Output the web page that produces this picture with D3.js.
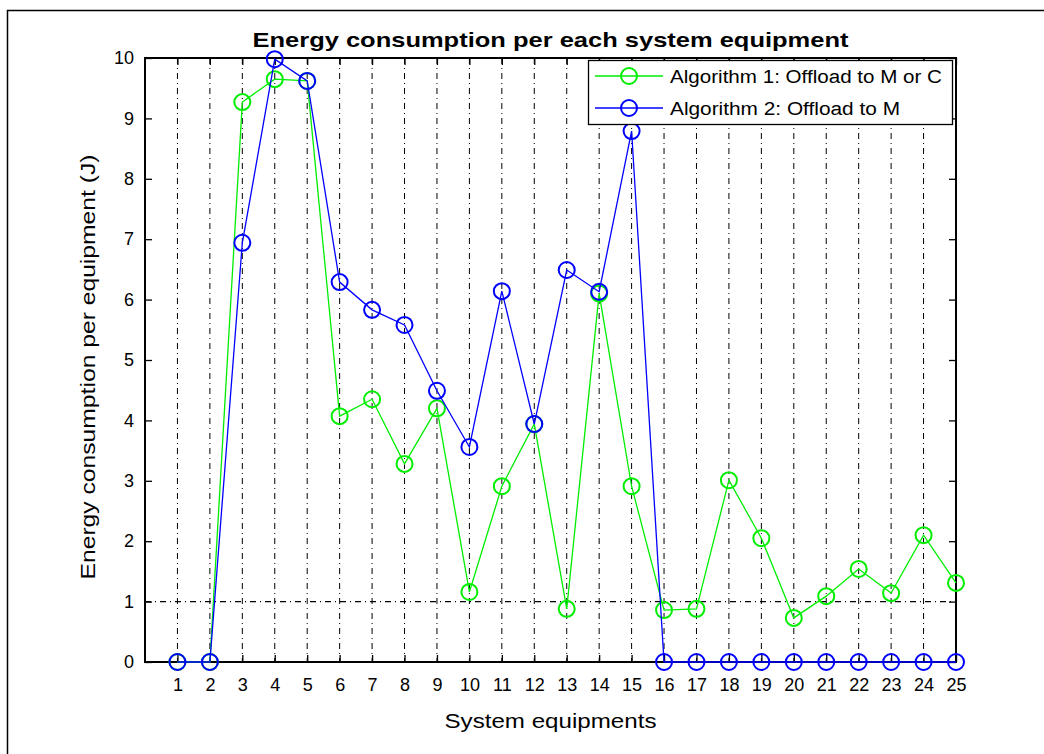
<!DOCTYPE html>
<html>
<head>
<meta charset="utf-8">
<script src="https://cdn.jsdelivr.net/npm/d3@7"></script>
<style>
html,body{margin:0;padding:0;background:#fff;}
svg{display:block;}
text{font-family:"Liberation Sans",Arial,sans-serif;fill:#000;}
</style>
</head>
<body>
<svg id="chart" width="1044" height="754"></svg>
<script>
const equipments = d3.range(1, 26);
const alg1 = [0, 0, 9.27, 9.65, 9.62, 4.07, 4.35, 3.28, 4.2, 1.16, 2.91, 3.94, 0.88, 6.1, 2.91, 0.86, 0.88, 3.01, 2.05, 0.73, 1.09, 1.54, 1.14, 2.1, 1.31];
const alg2 = [0, 0, 6.94, 9.98, 9.62, 6.29, 5.83, 5.58, 4.49, 3.56, 6.14, 3.94, 6.49, 6.13, 8.79, 0, 0, 0, 0, 0, 0, 0, 0, 0, 0];
const yTicks = d3.range(0, 11);
const seriesNames = ["Algorithm 1: Offload to M or C", "Algorithm 2: Offload to M"];
const seriesColors = ["#00ee00", "#0000ff"];
const title = "Energy consumption per each system equipment";
const xLabel = "System equipments";
const yLabel = "Energy consumption per equipment (J)";
const thresholdY = 1;

const svg = d3.select("#chart");
const L = 145, R = 956, T = 58, B = 662;
const x = d3.scaleLinear().domain([0, 25]).range([L, R]);
const y = d3.scaleLinear().domain([0, 10]).range([B, T]);

// figure border
svg.append("rect").attr("x", 7.5).attr("y", 10.5).attr("width", 1100).attr("height", 1000)
  .attr("fill", "none").attr("stroke", "#000").attr("stroke-width", 1.5);

const g = svg.append("g");

// vertical grid lines
g.selectAll("line.vg").data(equipments.filter(d => d < 25)).enter().append("line")
  .attr("x1", d => x(d)).attr("x2", d => x(d)).attr("y1", T).attr("y2", B)
  .attr("stroke", "#000").attr("stroke-width", 1).attr("stroke-dasharray", "6,4,1,4");

// horizontal threshold line
g.append("line").attr("x1", L).attr("x2", R).attr("y1", y(thresholdY)).attr("y2", y(thresholdY))
  .attr("stroke", "#000").attr("stroke-width", 1.2).attr("stroke-dasharray", "6,4,1,4");

// axes
const tl = 7;
const xAxisB = d3.axisBottom(x).tickValues(equipments).tickSize(-tl).tickPadding(16).tickFormat(d3.format("d"));
const xAxisT = d3.axisTop(x).tickValues(equipments).tickSize(-tl).tickFormat("");
const yAxisL = d3.axisLeft(y).tickValues(yTicks).tickSize(-tl).tickPadding(11).tickFormat(d3.format("d"));
const yAxisR = d3.axisRight(y).tickValues(yTicks).tickSize(-tl).tickFormat("");

function styleAxis(sel) {
  sel.select(".domain").remove();
  sel.selectAll(".tick line").attr("stroke", "#000").attr("stroke-width", 1.3);
  sel.selectAll(".tick text").style("font-size", "18px").style("font-family", "'Liberation Sans',Arial,sans-serif").attr("fill", "#000");
}
g.append("g").attr("transform", `translate(0,${B})`).call(xAxisB).call(styleAxis);
g.append("g").attr("transform", `translate(0,${T})`).call(xAxisT).call(styleAxis);
g.append("g").attr("transform", `translate(${L},0)`).call(yAxisL).call(styleAxis);
g.append("g").attr("transform", `translate(${R},0)`).call(yAxisR).call(styleAxis);

// box
g.append("rect").attr("x", L).attr("y", T).attr("width", R - L).attr("height", B - T)
  .attr("fill", "none").attr("stroke", "#000").attr("stroke-width", 2);

// series
const line = d3.line().x((d, i) => x(equipments[i])).y(d => y(d));
[alg1, alg2].forEach((data, si) => {
  g.append("path").datum(data).attr("d", line).attr("fill", "none")
    .attr("stroke", seriesColors[si]).attr("stroke-width", 1.3);
  g.selectAll(null).data(data).enter().append("circle")
    .attr("cx", (d, i) => x(equipments[i])).attr("cy", d => y(d)).attr("r", 8)
    .attr("fill", "none").attr("stroke", seriesColors[si]).attr("stroke-width", 2);
});

// title
svg.append("text").attr("x", (L + R) / 2).attr("y", 47).attr("text-anchor", "middle")
  .style("font-size", "21px").style("font-weight", "bold")
  .attr("textLength", 596).attr("lengthAdjust", "spacingAndGlyphs").text(title);

// x label
svg.append("text").attr("x", (L + R) / 2).attr("y", 728).attr("text-anchor", "middle")
  .style("font-size", "20px").attr("textLength", 212).attr("lengthAdjust", "spacingAndGlyphs").text(xLabel);

// y label
svg.append("text").attr("transform", `translate(95,${(T + B) / 2 + 7}) rotate(-90)`).attr("text-anchor", "middle")
  .style("font-size", "20px").attr("textLength", 425).attr("lengthAdjust", "spacingAndGlyphs").text(yLabel);

// legend
const lg = svg.append("g");
lg.append("rect").attr("x", 588.5).attr("y", 60.5).attr("width", 364).attr("height", 64)
  .attr("fill", "#fff").attr("stroke", "#000").attr("stroke-width", 1.3);
const legendLens = [272, 230];
seriesNames.forEach((name, i) => {
  const ly = 76 + i * 32;
  lg.append("line").attr("x1", 595).attr("x2", 663).attr("y1", ly).attr("y2", ly)
    .attr("stroke", seriesColors[i]).attr("stroke-width", 1.3);
  lg.append("circle").attr("cx", 629).attr("cy", ly).attr("r", 8).attr("fill", "none")
    .attr("stroke", seriesColors[i]).attr("stroke-width", 2);
  lg.append("text").attr("x", 670).attr("y", ly + 7).style("font-size", "18px")
    .attr("textLength", legendLens[i]).attr("lengthAdjust", "spacingAndGlyphs").text(name);
});
</script>
</body>
</html>
